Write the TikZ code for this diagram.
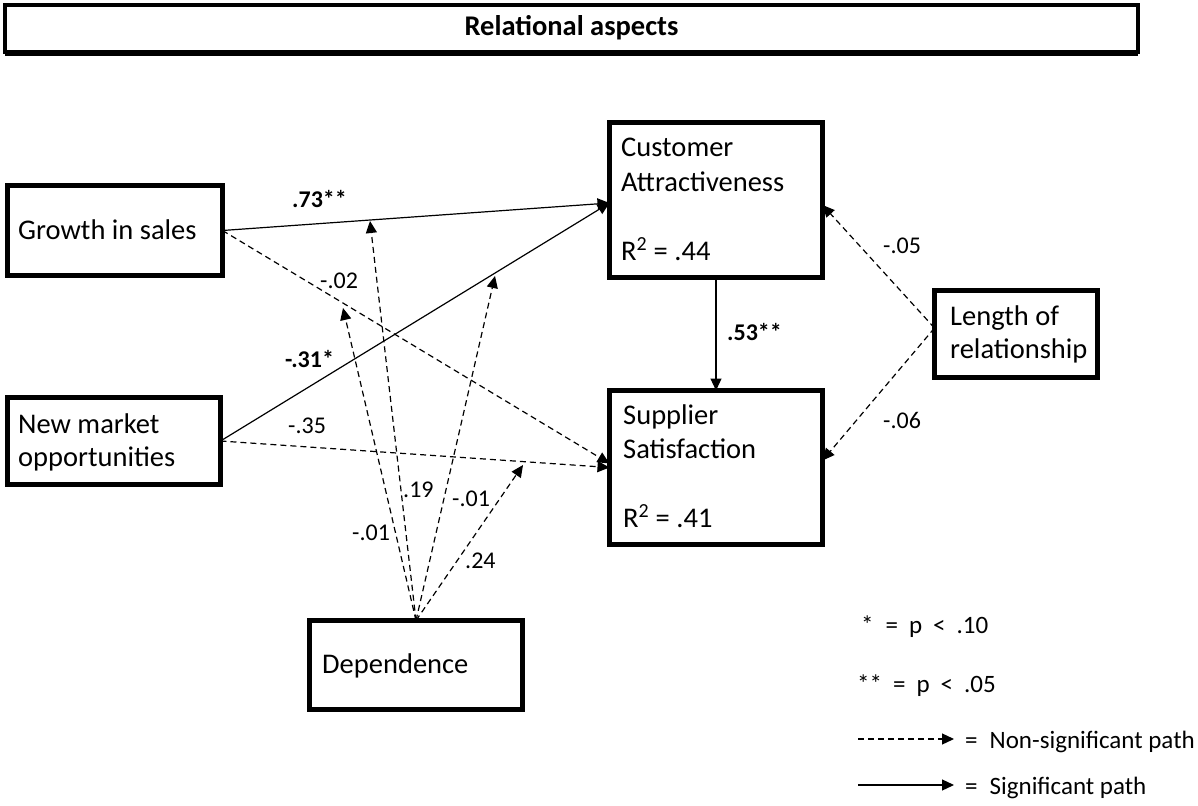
\documentclass[tikz,border=0pt]{standalone}
\usepackage{fontspec}
\setmainfont{Carlito}
\usetikzlibrary{arrows.meta,calc}
\begin{document}
\begin{tikzpicture}[x=1pt,y=-1pt,
  box/.style={draw,line width=5pt,inner sep=0pt,outer sep=0pt,anchor=north west},
  txt/.style={inner sep=0pt,anchor=base west,font=\fontsize{28.5}{32}\selectfont},
  lab/.style={inner sep=0pt,anchor=base west,font=\fontsize{24}{28}\selectfont},
  leg/.style={inner sep=0pt,anchor=base west,font=\fontsize{25}{28}\selectfont},
  blab/.style={lab,font=\fontsize{24}{28}\selectfont\bfseries},
  sig/.style={line width=1.2pt,-{Triangle[length=12pt,width=11pt]}},
  nsig/.style={sig,dash pattern=on 6pt off 4pt},
]
\useasboundingbox (0,0) rectangle (1198,805);
% title
\node[box,line width=4pt,minimum width=1133,minimum height=47] (title) at (5,5) {};
\draw[line width=4pt] ([yshift=-2pt]title.south west) -- ([yshift=-2pt]title.south east);
\node[inner sep=0pt,font=\fontsize{28.5}{32}\selectfont\bfseries] (titletxt) at ($(title.center)+(0,-1)$) {Relational aspects};
% boxes
\node[box,minimum width=215,minimum height=90] (gs) at (7.5,185.5) {};
\node[box,minimum width=213,minimum height=87] (nm) at (7.5,397.5) {};
\node[box,minimum width=213,minimum height=155] (ca) at (609.5,122.5) {};
\node[box,minimum width=213,minimum height=154] (ss) at (609.5,390.5) {};
\node[box,minimum width=163,minimum height=87] (lr) at (934.5,290.5) {};
\node[box,minimum width=213,minimum height=89] (dep) at (309.5,620.5) {};
% box texts
\node[txt] (gst) at (18,239) {Growth in sales};
\node[txt] (nmt1) at (18,433) {New market};
\node[txt] (nmt2) at (18,466) {opportunities};
\node[txt] (cat1) at (621,157) {Customer};
\node[txt] (cat2) at (621,191) {Attractiveness};
\node[txt] (cat3) at (621,260) {R\textsuperscript{2} = .44};
\node[txt] (sst1) at (623,424) {Supplier};
\node[txt] (sst2) at (623,458) {Satisfaction};
\node[txt] (sst3) at (623,527) {R\textsuperscript{2} = .41};
\node[txt] (lrt1) at (950,325) {Length of};
\node[txt] (lrt2) at (950,358) {relationship};
\node[txt] (dept) at (322,673) {Dependence};
% free ends of moderating arrows
\coordinate (m1) at (343,308);
\coordinate (m2) at (370,221);
\coordinate (m3) at (495,276);
\coordinate (m4) at (523,465);
% connectors
\draw[sig] (gs.east) -- ($(ca.west)+(0,3)$);
\draw[sig] (nm.east) -- ($(ca.west)+(0,3)$);
\draw[nsig] (gs.east) -- ($(ss.west)+(0,-4)$);
\draw[nsig] (nm.east) -- (ss.west);
\draw[sig] (ca.south) -- (ss.north);
\draw[nsig] ($(lr.west)+(0,-6)$) -- ($(ca.east)+(0,5)$);
\draw[nsig] ($(lr.west)+(0,-6)$) -- ($(ss.east)+(0,-7)$);
\draw[nsig] (dep.north) -- (m1);
\draw[nsig] (dep.north) -- (m2);
\draw[nsig] (dep.north) -- (m3);
\draw[nsig] (dep.north) -- (m4);
% path labels
\node[blab] (l1) at (292,207) {.73**};
\node[blab] (l2) at (285,367) {-.31*};
\node[lab] (l3) at (320,288) {-.02};
\node[lab] (l4) at (288,433) {-.35};
\node[blab] (l5) at (727,340) {.53**};
\node[lab] (l6) at (883,253) {-.05};
\node[lab] (l7) at (883,428) {-.06};
\node[lab] (l8) at (352,540) {-.01};
\node[lab] (l9) at (403,497) {.19};
\node[lab] (l10) at (452,506) {-.01};
\node[lab] (l11) at (465,568) {.24};
% legend
\node[leg] (lg1) at (861,633) {*\hspace{12pt}=\hspace{11pt}p\hspace{11pt}<\hspace{11pt}.10};
\node[leg] (lg2) at (857,692) {**\hspace{11pt}=\hspace{11pt}p\hspace{11pt}<\hspace{11pt}.05};
\coordinate (ld1) at (858,739);
\coordinate (ld2) at (954,739);
\coordinate (ls1) at (858,785);
\coordinate (ls2) at (954,785);
\draw[nsig] (ld1) -- (ld2);
\draw[sig] (ls1) -- (ls2);
\node[leg] (lg3) at (965,748) {=\hspace{12pt}Non-significant path};
\node[leg] (lg4) at (965,794) {=\hspace{12pt}Significant path};
\end{tikzpicture}
\end{document}
